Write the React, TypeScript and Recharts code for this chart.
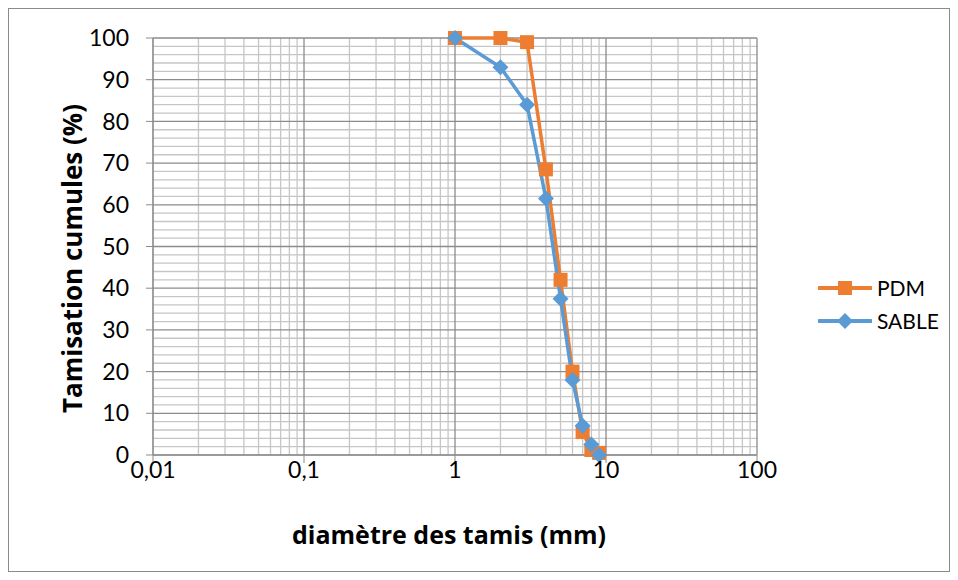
import { CartesianGrid, Legend, Line, LineChart, XAxis, YAxis } from "recharts";

const FONT = "Lato, 'Open Sans', sans-serif";
const TITLE_FONT = "'Open Sans', Lato, sans-serif";
const ORANGE = "#ED7D31";
const BLUE = "#5B9BD5";
const GRID_MAJOR = "#8c8c8c";
const GRID_MINOR = "#c6c6c6";

// diamètre des tamis (mm) et tamisats cumulés (%)
const DIAMETRES = [1, 2, 3, 4, 5, 6, 7, 8, 9];
const PDM = [100, 100, 99, 68.5, 42, 20, 5.5, 1.2, 0.5];
const SABLE = [100, 93, 84, 61.5, 37.5, 18, 7, 2.5, 0];

const X_TICKS = [0.01, 0.1, 1, 10, 100];
const Y_TICKS = [0, 10, 20, 30, 40, 50, 60, 70, 80, 90, 100];
const DECADES = [0.01, 0.1, 1, 10];
const SUB = [2, 3, 4, 5, 6, 7, 8, 9];
const X_MINOR = DECADES.flatMap((d) => SUB.map((s) => +(d * s).toPrecision(3)));
const Y_MINOR = [2, 4, 6, 8, 12, 14, 16, 18, 22, 24, 26, 28, 32, 34, 36, 38, 42, 44, 46, 48, 52, 54, 56, 58, 62, 64, 66, 68, 72, 74, 76, 78, 82, 84, 86, 88, 92, 94, 96, 98];

const data = DIAMETRES.map((d, i) => ({ d, PDM: PDM[i], SABLE: SABLE[i] }));

const fmt = (v: number) => String(v).replace(".", ",");

const titleStyle = { fontSize: 25, fontWeight: 700, fontFamily: TITLE_FONT, fill: "#000" };

function Square(p: any) {
  if (p.cx == null || p.cy == null) return <g key={p.index} />;
  return <rect key={p.index} x={p.cx - 7} y={p.cy - 7} width={14} height={14} fill={ORANGE} />;
}

function Diamond(p: any) {
  if (p.cx == null || p.cy == null) return <g key={p.index} />;
  const { cx, cy } = p;
  return <polygon key={p.index} points={`${cx},${cy - 8} ${cx + 8},${cy} ${cx},${cy + 8} ${cx - 8},${cy}`} fill={BLUE} />;
}

function XTitle({ viewBox }: any) {
  if (!viewBox) return null;
  const x = viewBox.x + viewBox.width / 2 - 6;
  const y = viewBox.y + 79;
  return (
    <text x={x} y={y} textAnchor="middle" dominantBaseline="central" style={titleStyle}>
      diamètre des tamis (mm)
    </text>
  );
}

function YTitle({ viewBox }: any) {
  if (!viewBox) return null;
  const x = viewBox.x + 19;
  const y = viewBox.y + viewBox.height / 2 + 12;
  return (
    <text
      x={x}
      y={y}
      transform={`rotate(-90 ${x} ${y})`}
      textAnchor="middle"
      dominantBaseline="central"
      style={{ ...titleStyle, fontSize: 26 }}
    >
      Tamisation cumules (%)
    </text>
  );
}

const ITEMS = [
  { name: "PDM", color: ORANGE, shape: "square" },
  { name: "SABLE", color: BLUE, shape: "diamond" },
];

function LegendBox() {
  return (
    <div style={{ fontFamily: FONT, fontSize: 21, color: "#000" }}>
      {ITEMS.map((it) => (
        <div key={it.name} style={{ display: "flex", alignItems: "center", height: 33 }}>
          <svg width={54} height={20} style={{ marginRight: 5 }}>
            <line x1={1} y1={10} x2={53} y2={10} stroke={it.color} strokeWidth={4} strokeLinecap="round" />
            {it.shape === "square" ? (
              <rect x={20} y={3} width={14} height={14} fill={it.color} />
            ) : (
              <polygon points="27,2 35,10 27,18 19,10" fill={it.color} />
            )}
          </svg>
          <span>{it.name}</span>
        </div>
      ))}
    </div>
  );
}

export default function App() {
  return (
    <div style={{ width: 940, height: 562, border: "1px solid #8a8a8a", background: "#fff" }}>
      <LineChart width={940} height={562} data={data} margin={{ top: 29, right: 192, bottom: 16, left: 44 }}>
        <CartesianGrid stroke={GRID_MINOR} strokeWidth={1.3} horizontalValues={Y_MINOR} verticalValues={X_MINOR} />
        <CartesianGrid stroke={GRID_MAJOR} strokeWidth={1.3} horizontalValues={Y_TICKS} verticalValues={X_TICKS} />
        <XAxis
          dataKey="d"
          type="number"
          scale="log"
          domain={[0.01, 100]}
          ticks={X_TICKS}
          interval={0}
          allowDataOverflow
          tickFormatter={fmt}
          height={100}
          tickSize={8}
          tickMargin={-1}
          stroke={GRID_MAJOR}
          tick={{ fill: "#000", fontSize: 23, fontFamily: FONT }}
          label={<XTitle />}
        />
        <YAxis
          type="number"
          domain={[0, 100]}
          ticks={Y_TICKS}
          interval={0}
          width={100}
          tickSize={7}
          tickMargin={17}
          stroke={GRID_MAJOR}
          tick={{ fill: "#000", fontSize: 23, fontFamily: FONT }}
          label={<YTitle />}
        />
        <Legend
          layout="vertical"
          align="center"
          verticalAlign="middle"
          content={<LegendBox />}
          wrapperStyle={{ left: 809, top: 262, width: "auto" }}
        />
        <Line dataKey="PDM" stroke={ORANGE} strokeWidth={3.5} dot={Square} activeDot={false} isAnimationActive={false} />
        <Line dataKey="SABLE" stroke={BLUE} strokeWidth={3.5} dot={Diamond} activeDot={false} isAnimationActive={false} />
      </LineChart>
    </div>
  );
}
